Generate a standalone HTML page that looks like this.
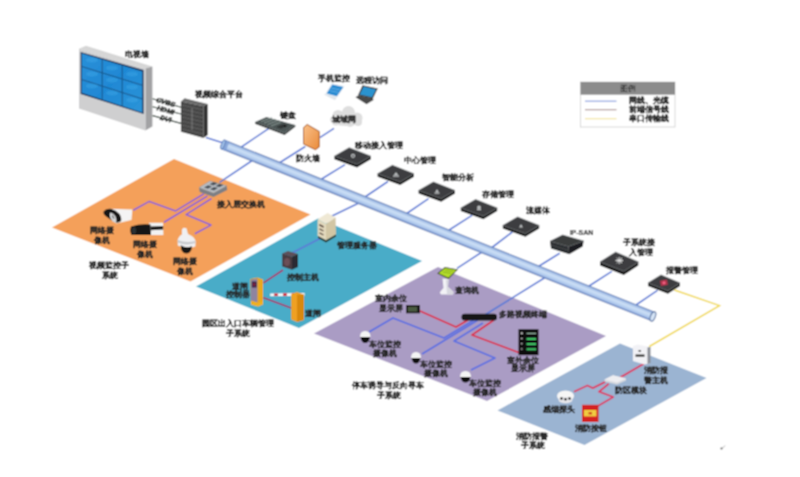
<!DOCTYPE html>
<html><head><meta charset="utf-8">
<style>
html,body{margin:0;padding:0;background:#fff;}
body{width:800px;height:477px;overflow:hidden;}
svg{display:block;}
text{font-family:"Liberation Sans",sans-serif;fill:#262626;stroke:#262626;stroke-width:0.12px;font-size:8px;font-weight:bold;text-anchor:middle;dominant-baseline:central;}
</style></head><body>
<svg width="800" height="477" viewBox="0 0 800 477">
<defs>
<linearGradient id="pipeG" x1="0" y1="0" x2="0" y2="1">
<stop offset="0" stop-color="#5670aa"/><stop offset="0.13" stop-color="#9ab6e2"/><stop offset="0.4" stop-color="#cde0f6"/><stop offset="0.72" stop-color="#b2cbee"/><stop offset="0.88" stop-color="#86a2d6"/><stop offset="1" stop-color="#5670aa"/>
</linearGradient>
<linearGradient id="fwG" x1="0" y1="0" x2="1" y2="1">
<stop offset="0" stop-color="#f9c08a"/><stop offset="1" stop-color="#ea8b3a"/>
</linearGradient>
<g id="dev">
<polygon points="-18.2,-0.5 -18.2,2.5 4.4,10.8 18.2,2.5 18.2,-0.5 4.4,7.6" fill="#1c1d1e"/>
<polygon points="-18.2,-0.5 -3.4,-9 18.2,-0.5 4.4,7.6" fill="#3c3e40" stroke="#5c5f62" stroke-width="0.7"/>
</g>
<filter id="soft" x="-50%" y="-50%" width="200%" height="200%"><feGaussianBlur stdDeviation="0.45"/></filter>
</defs>
<filter id="blurAll" x="0" y="0" width="800" height="477" filterUnits="userSpaceOnUse"><feConvolveMatrix order="3" kernelMatrix="1 2 1 2 4 2 1 2 1" divisor="16" edgeMode="duplicate"/></filter>
<g filter="url(#blurAll)">
<rect width="800" height="477" fill="#fff"/>
<!-- regions -->
<polygon points="52,227.5 174,159 310.5,214.5 190.5,281.5" fill="#F4A05A"/>
<polygon points="196,286.5 318,218.5 422,261 299,328" fill="#4AACC8"/>
<polygon points="314,333.5 438,267 606,336 487,401" fill="#AA9CC4"/>
<polygon points="497.5,410.5 620,343.5 706.5,378 584.5,445" fill="#9BB4D2"/>

<!-- cables (blue) -->
<g stroke="#5c7bd6" stroke-width="1.6" fill="none">
<line x1="206" y1="137.5" x2="225" y2="143.5"/>
<line x1="268.9" y1="128.3" x2="237" y2="150"/>
<line x1="305.3" y1="146.5" x2="276" y2="165"/>
<line x1="319.8" y1="137.7" x2="334" y2="128.4"/>
<line x1="345" y1="164.6" x2="320" y2="180"/>
<line x1="387.9" y1="181.5" x2="362" y2="199"/>
<line x1="428.5" y1="198.6" x2="406" y2="214"/>
<line x1="472" y1="215.3" x2="446" y2="232"/>
<line x1="512.3" y1="232" x2="490" y2="249"/>
<line x1="559.7" y1="253.2" x2="536" y2="268"/>
<line x1="611.8" y1="271.3" x2="586" y2="288"/>
<line x1="657.5" y1="290.4" x2="633" y2="307"/>
<line x1="219.6" y1="182.3" x2="256" y2="158"/>
<line x1="330" y1="217" x2="365" y2="200"/>
<line x1="485.5" y1="314.5" x2="550" y2="274.5"/>
<line x1="457" y1="268.4" x2="482" y2="252"/>
<line x1="290" y1="254" x2="321" y2="238"/>
</g>

<!-- pipe -->
<g transform="translate(223,144.5) rotate(21.8)">
<rect x="0" y="-5" width="463" height="10" fill="url(#pipeG)"/>
<rect x="0" y="-5" width="5" height="10" fill="#7d9ed4" opacity="0.8"/>
<ellipse cx="0" cy="0" rx="1.8" ry="5" fill="#9dbde6" stroke="#5a76b4" stroke-width="0.8"/>
<ellipse cx="463" cy="0" rx="2.4" ry="5" fill="#d5e4f5" stroke="#56709f" stroke-width="1"/>
</g>

<!-- video wall -->
<defs><linearGradient id="scrG" x1="0" y1="0" x2="1" y2="1"><stop offset="0" stop-color="#2a8fd8"/><stop offset="0.5" stop-color="#1f88d4"/><stop offset="1" stop-color="#2b94d8"/></linearGradient></defs>
<polygon points="79,48.8 86,45.8 152.4,66.5 145.4,68.5" fill="#d6d6d6"/>
<polygon points="145.4,68.5 152.4,66.5 152.4,126.5 145.4,130.5" fill="#a2a2a4"/>
<polygon points="79,48.8 145.4,68.5 145.4,130.5 79,108.6" fill="#cfcfd0"/>
<polygon points="80.6,52 143.6,70 143.6,114 80.6,94" fill="#1d3a5e"/>
<polygon points="81.8,53.4 142.2,71.5 142.2,112.6 81.8,92.7" fill="url(#scrG)"/>
<g stroke="#1a4f80" stroke-width="0.9">
<line x1="102.2" y1="59.5" x2="102.2" y2="99.3"/>
<line x1="122.2" y1="65.5" x2="122.2" y2="105.9"/>
<line x1="81.8" y1="66.5" x2="142.2" y2="85.2"/>
<line x1="81.8" y1="79.6" x2="142.2" y2="98.9"/>
</g>
<g fill="#45b0ee" opacity="0.35">
<ellipse cx="92" cy="60" rx="6" ry="2.5"/><ellipse cx="112" cy="68" rx="6" ry="2.5"/><ellipse cx="132" cy="74" rx="6" ry="2.5"/>
<ellipse cx="92" cy="74" rx="6" ry="2.5"/><ellipse cx="112" cy="80" rx="6" ry="2.5"/><ellipse cx="132" cy="87" rx="6" ry="2.5"/>
<ellipse cx="92" cy="86" rx="6" ry="2.5"/><ellipse cx="112" cy="93" rx="6" ry="2.5"/><ellipse cx="132" cy="100" rx="6" ry="2.5"/>
</g>
<!-- CVBS lines -->
<g stroke="#2a3a30" stroke-width="1.1">
<line x1="152.6" y1="98.8" x2="181" y2="107.2"/>
<line x1="152.6" y1="106.7" x2="181" y2="114"/>
<line x1="152.6" y1="115.6" x2="181" y2="123.4"/>
</g>
<g style="font-style:italic">
<text x="165.8" y="102.2" style="font-size:7px;fill:#1a1a1a;stroke:#1a1a1a;stroke-width:0.35px" transform="rotate(16 165.8 102.2)">CVBS</text>
<text x="165.8" y="110" style="font-size:7px;fill:#1a1a1a;stroke:#1a1a1a;stroke-width:0.35px" transform="rotate(16 165.8 110)">HDMI</text>
<text x="165.8" y="118.6" style="font-size:7px;fill:#1a1a1a;stroke:#1a1a1a;stroke-width:0.35px" transform="rotate(16 165.8 118.6)">DVI</text>
</g>
<!-- video platform -->
<polygon points="180.9,101.4 184.6,98.3 207.7,104 203.5,106.2" fill="#6a6a6a"/>
<polygon points="203.5,106.2 207.7,104 207.7,135 203.5,138.1" fill="#303030"/>
<polygon points="180.9,101.4 203.5,106.2 203.5,138.1 180.9,131.8" fill="#474747"/>
<g stroke="#6e6e6e" stroke-width="0.6">
<line x1="181.5" y1="105" x2="203" y2="109.8"/><line x1="181.5" y1="109" x2="203" y2="113.8"/><line x1="181.5" y1="113" x2="203" y2="117.8"/><line x1="181.5" y1="117" x2="203" y2="121.8"/><line x1="181.5" y1="121" x2="203" y2="125.8"/><line x1="181.5" y1="125" x2="203" y2="129.8"/><line x1="181.5" y1="129" x2="203" y2="133.8"/>
</g>
<line x1="192" y1="108" x2="192" y2="130" stroke="#8a8a8a" stroke-width="0.8"/>

<!-- keyboard -->
<polygon points="255,122 255,123.8 284.6,135 295.3,126.8 295.3,125.1 284.6,133.3" fill="#262a2a"/>
<polygon points="255,122 266.4,117 295.3,125.1 284.6,133.3" fill="#4e5656"/>
<g stroke="#9aaaa6" stroke-width="0.9" opacity="0.8">
<line x1="261" y1="121.5" x2="272" y2="117.6"/><line x1="264" y1="123" x2="275" y2="119"/>
<line x1="267.5" y1="124.5" x2="278" y2="120.5"/><line x1="271" y1="126" x2="281" y2="122"/>
</g>
<polygon points="276,127 283,124 288,125.5 281,128.8" fill="#303636"/>
<circle cx="285" cy="126" r="1.3" fill="#1a1a1a"/>
<!-- firewall -->
<polygon points="307.2,124.5 319.2,131.4 319.2,147.1 315.4,149.7 303.5,144 303.5,127.6" fill="url(#fwG)" stroke="#a65418" stroke-width="1"/>
<!-- cloud -->
<g fill="#dedede">
<ellipse cx="346" cy="119.5" rx="16" ry="6.5"/>
<circle cx="338" cy="115.5" r="5.5"/><circle cx="348.5" cy="112.5" r="6.5"/><circle cx="357" cy="118" r="5.5"/><circle cx="336" cy="121" r="4.5"/><circle cx="350" cy="122" r="5"/><circle cx="358" cy="122" r="4"/>
</g>
<!-- laptops -->
<polygon points="323.8,94.5 325.7,93.9 337,97 335,100.3" fill="#dfe4ea"/>
<polygon points="331.5,83.2 344.8,86 337.4,97.4 325,94" fill="#e8eef4"/>
<polygon points="332.3,84.6 343.3,86.9 336.8,96.3 326.6,93.6" fill="#2a8cd2"/>
<g stroke="#7cc0f0" stroke-width="0.6"><line x1="331" y1="88" x2="340" y2="90"/><line x1="329.5" y1="90.5" x2="338.5" y2="92.5"/></g>
<polygon points="355.5,97.2 366.5,104.3 373.5,100 373,98.3 358.4,95.2" fill="#4a4a4a"/>
<polygon points="362.5,85.2 377.8,88.6 372.9,98.5 358,95.2" fill="#3a3a3a"/>
<polygon points="363.6,86.6 376.2,89.5 372.1,97.2 359.6,94.4" fill="#2b93cf"/>
<!-- devices along the pipe -->
<use href="#dev" x="352.6" y="156.7"/>
<use href="#dev" x="395.8" y="174.3"/>
<use href="#dev" x="436.8" y="191"/>
<use href="#dev" x="479" y="208.5"/>
<use href="#dev" x="521" y="226"/>
<!-- IP-SAN box -->
<polygon points="550,241.3 568.5,246.5 569.3,254.3 551,248.5" fill="#2c2e30"/>
<polygon points="568.5,246.5 583.6,241 582.7,246.5 569.3,254.3" fill="#1e1f20"/>
<polygon points="550,241.3 562.6,235 583.6,241 568.5,246.5" fill="#3a3c3e" stroke="#56595c" stroke-width="0.6"/>
<line x1="551" y1="245" x2="568.8" y2="250.3" stroke="#55585a" stroke-width="0.6"/>
<use href="#dev" transform="translate(619.2,262.5) scale(1.05,1.15)"/>
<use href="#dev" transform="translate(664,283.5) scale(0.88,0.95)"/>
<!-- icons -->
<g fill="#d0d2d4" opacity="0.85">
<circle cx="353" cy="155.8" r="2.1"/><circle cx="353" cy="155.8" r="0.9" fill="#444"/>
<path d="M393.5,175.5 L396,172 L398.5,175.5 Z"/><rect x="393" y="175.5" width="6" height="1.2"/>
<path d="M435,192.5 L437,189 L439,192.5 Z"/><rect x="434.5" y="192.5" width="5" height="1.2"/>
<circle cx="479" cy="207.2" r="1.8"/><rect x="477" y="208.8" width="4" height="1.4"/>
<path d="M519,227.5 L521,224 L523,227.5 Z"/>
</g>
<g stroke="#f0f0f0" stroke-width="0.9" filter="url(#soft)">
<line x1="615.5" y1="260.5" x2="623" y2="260.5"/><line x1="619.2" y1="257" x2="619.2" y2="264"/><line x1="616.5" y1="258" x2="622" y2="263"/><line x1="622" y1="258" x2="616.5" y2="263"/>
</g>
<rect x="660.5" y="280" width="7" height="5.5" fill="#b0304a" transform="rotate(-10 664 283)"/>
<circle cx="664" cy="282.8" r="1.6" fill="#f06080"/>
<!-- yellow serial line -->
<polyline points="674.4,290 719.5,305.6 649.3,346.5" fill="none" stroke="#f0d84a" stroke-width="1.5"/>


<!-- orange region cables (purple) -->
<g stroke="#8a62d6" stroke-width="1.6" fill="none" stroke-linejoin="round">
<polyline points="133.2,210.2 149.3,201.4 175.7,210.9 204,193.8"/>
<polyline points="164,222.3 207.5,196"/>
<polyline points="194.8,233.7 211,225.1 186,214.6 211.5,198.5"/>
</g>
<!-- switch -->
<polygon points="199,187.6 199.7,192 213.5,196.9 227.3,190 226.7,185.8 213.5,193.1" fill="#7c7f85"/>
<polygon points="199,187.6 210,181 226.7,185.8 213.5,193.1" fill="#b9bec4" stroke="#8a8e94" stroke-width="0.5"/>
<g fill="#4a5058">
<polygon points="204,187.5 208,185.2 212,186.4 208,188.7"/>
<polygon points="209.5,184.3 213.5,182 217.5,183.2 213.5,185.5"/>
<polygon points="210,189.2 214,186.9 218,188.1 214,190.4"/>
<polygon points="215.5,186 219.5,183.7 223.5,184.9 219.5,187.2"/>
</g>
<!-- camera 1 bullet -->
<polygon points="109.5,208.7 132.4,209.6 131.5,220 116.6,223.6 112,221" fill="#f4f4f4"/>
<path d="M103.5,211.5 Q106,208 111,208.8 Q116,210 119.5,214 Q122,218.5 121,221 Q118.5,223.5 115,222 Q109,219 105.5,216 Q102.8,213.5 103.5,211.5 Z" fill="#161616"/>
<path d="M110.2,212.5 Q113.5,213 115.5,216.5 Q117,220 116,222.5 Q112,221.5 110.5,218.5 Q109,215 110.2,212.5 Z" fill="#d8dadc"/>
<path d="M111.8,214.5 Q113.8,216 114.4,219 Q112.5,218.5 111.8,214.5 Z" fill="#333"/>
<!-- camera 2 box -->
<polygon points="149,222.7 163,222.7 163.4,235 150.7,235" fill="#f2f2f2"/>
<path d="M131,226.5 Q129.4,231 131.5,235 L151,235 L150.5,224.5 Q140,223.5 131,226.5 Z" fill="#161616"/>
<polygon points="150.5,226.5 163.2,226 163.2,229.5 150.8,230.2" fill="#1e1e1e"/>
<ellipse cx="134" cy="230.5" rx="2.2" ry="3.6" fill="#2c3036"/>
<!-- dome camera -->
<path d="M182,229.5 L183.5,227.8 L186.5,228.2 L188,234 Q194.5,236.5 195.6,241 L195.4,246.5 Q186,249.5 177.8,245.5 L177.7,240 Q179,235.5 182,234.5 Z" fill="#f0f0f2"/>
<path d="M177.8,240 Q186,243.5 195.5,241 L195.4,243 Q186,246 177.8,242.5 Z" fill="#c8cace"/>
<path d="M180.8,245.2 Q186,248.5 191.8,246.2 Q192.2,252.8 186.4,253.6 Q180.6,253 180.8,245.2 Z" fill="#161616"/>
<!-- teal: server -->
<polygon points="317.6,219.3 327.6,213 335.6,217.6 326,223.9" fill="#efe8d4"/>
<polygon points="317.6,219.3 326,223.9 326,240.2 317.6,236" fill="#e3d9bd"/>
<polygon points="326,223.9 335.6,217.6 336,234.4 326,240.2" fill="#d2c6a4"/>
<polygon points="318,236 326,240.2 336,234.4 336,236.5 326,242.5 318,238" fill="#2c3a30"/>
<g fill="#6a5548"><rect x="319.5" y="224" width="4" height="1.8" transform="skewY(28) translate(0,-170)"/></g>
<line x1="319.5" y1="224.8" x2="323.5" y2="227" stroke="#5a4a40" stroke-width="1.4"/>
<line x1="319.5" y1="228.8" x2="323.5" y2="231" stroke="#5a4a40" stroke-width="1.4"/>
<line x1="319.5" y1="232.8" x2="323.5" y2="235" stroke="#5a4a40" stroke-width="1.4"/>
<!-- red lines teal -->
<g stroke="#a83468" stroke-width="1.6" fill="none">
<line x1="263.5" y1="282.8" x2="283" y2="270"/>
<line x1="263.5" y1="297.8" x2="291.2" y2="307.9"/>
</g>
<!-- control host -->
<polygon points="282.2,253.5 288,250.9 298,254 292,256.8" fill="#5e5058"/>
<polygon points="282.2,253.5 292,256.8 292,269.8 282.2,266.5" fill="#4a3a40"/>
<ellipse cx="287" cy="262" rx="3" ry="4" fill="#7a5a60" opacity="0.7"/>
<polygon points="292,256.8 298,254 298,267 292,269.8" fill="#2a2a30"/>
<!-- gate controller -->
<polygon points="250.3,279 257.5,277.5 263,279.5 263,304 258,306.5 251,304.5" fill="#eaa81e"/>
<polygon points="250.8,279.5 257.5,278.5 257.5,302.5 250.8,300.5" fill="#8e84a0"/>
<rect x="251.8" y="281.5" width="4.8" height="6" fill="#3a1f45"/>
<rect x="252.8" y="283" width="2.5" height="3" fill="#7a2040"/>
<polygon points="251,301 257.5,303 263,301 263,304.5 258,306.5 251,304.5" fill="#f0b020"/>
<!-- barrier gate -->
<polygon points="270.2,293.5 304.6,293 304.6,295.8 270.2,296.2" fill="#fafafa"/>
<g stroke="#d03040" stroke-width="2.6"><line x1="274" y1="294.8" x2="278" y2="294.7"/><line x1="283" y1="294.6" x2="287" y2="294.5"/><line x1="292" y1="294.4" x2="296" y2="294.3"/></g>
<polygon points="291.2,294 297,292 303.8,294.5 303.8,320 297,322 291.2,319.5" fill="#f0a020"/>
<polygon points="297,294.8 303.8,294.5 303.8,320 297,322" fill="#d88810"/>

<!-- purple: lines -->
<g stroke="#dc2c48" stroke-width="1.8" fill="none" stroke-linejoin="round">
<polyline points="420,311 456,327 468,320"/>
<polyline points="494,320 472,335 520,353"/>
</g>
<g stroke="#5a6ee2" stroke-width="1.7" fill="none" stroke-linejoin="round">
<polyline points="369,332 393,318 444,338 474,320"/>
<polyline points="422,354 478,320"/>
<polyline points="471,370 495,358 454,341 483,323"/>
</g>
<!-- kiosk -->
<path d="M442.5,278.5 L448.5,279 L448,287 Q451,289.5 453.5,292 L453,294.5 L441,294.5 L439.8,292.5 Q441.5,290 443.5,288 Z" fill="#f2f2f6"/>
<path d="M446,280 L448.5,279 L448,287 Q451,289.5 453.5,292 L453,294.5 L447,294.5 Z" fill="#d8d8e0"/>
<polygon points="437.2,273.5 444.8,267 458,269.4 448.6,279" fill="#2e3a10"/>
<polygon points="438.6,273.2 445.2,267.9 456.4,269.9 448.4,277.8" fill="#b2dc2c"/>
<g stroke="#6a8a18" stroke-width="0.5"><line x1="443" y1="272" x2="451" y2="273.2"/><line x1="445" y1="270" x2="453" y2="271.2"/></g>
<!-- indoor display -->
<rect x="406" y="305" width="14" height="8.3" fill="#1e1e1a"/>
<rect x="408" y="307" width="9" height="4.5" fill="#4a5a40"/>
<!-- terminal -->
<rect x="461.5" y="313.8" width="35.5" height="6.8" rx="3" fill="#141414"/>
<!-- outdoor display -->
<rect x="518.5" y="329.2" width="20" height="26" fill="#0c0e0c"/>
<g fill="#3cbc62"><rect x="526.5" y="337.8" width="9.5" height="2.2"/><rect x="526.5" y="343" width="9.5" height="2.2"/><rect x="526.5" y="348.2" width="9.5" height="2.2"/></g>
<rect x="526.5" y="332.8" width="9.5" height="1.2" fill="#8aa898"/>
<g fill="#d8d8d8"><circle cx="521.8" cy="333.2" r="1"/><circle cx="521.8" cy="338.6" r="0.8"/><circle cx="521.8" cy="343.8" r="0.8"/><circle cx="521.8" cy="349" r="0.8"/></g>
<!-- dome cams purple -->
<g>
<path d="M360,337 Q360,331 365.2,331 Q370.5,331 370.5,337 Z" fill="#f4f4f4"/><path d="M360.5,337 L370,337 Q369,343 365.2,343 Q361.5,343 360.5,337 Z" fill="#111"/>
<path d="M411,358 Q411,352 416,352 Q421,352 421,358 Z" fill="#f4f4f4"/><path d="M411.5,358 L420.5,358 Q419.5,363.5 416,363.5 Q412.5,363.5 411.5,358 Z" fill="#111"/>
<path d="M460,377 Q460,371 465.5,371 Q471,371 471,377 Z" fill="#f4f4f4"/><path d="M460.5,377 L470.5,377 Q469.5,382.5 465.5,382.5 Q461.5,382.5 460.5,377 Z" fill="#111"/>
</g>

<!-- fire region -->
<g stroke="#dc3a62" stroke-width="1.8" fill="none" stroke-linejoin="round">
<polyline points="646.3,362.3 620.4,377.4"/>
<polyline points="605.3,381.9 592.8,388.1 587.4,385.5 574,391.7"/>
<polyline points="608.8,383.7 599,391.7 613.3,397 598,406"/>
</g>
<!-- host -->
<polygon points="632.9,346 638,344.5 649.8,347 649.8,363.2 644.5,364.5 632.9,361" fill="#f2f2f6"/>
<polygon points="647.5,347.5 650.5,347 650.5,363 647.5,364" fill="#8a8e96"/>
<rect x="635.5" y="354.5" width="9" height="2.2" fill="#2a2a2a"/><rect x="638.5" y="350" width="2.5" height="1.8" fill="#555"/>
<!-- module -->
<polygon points="604.5,379.5 613,375.2 626,378.4 626,380.4 617,384.5 604.5,381.5" fill="#d8dadf"/>
<polygon points="604.5,379.5 613,375.2 626,378.4 617,382.6" fill="#eeeef2"/>
<!-- smoke detector -->
<ellipse cx="565.5" cy="396" rx="8.5" ry="5.5" fill="#f6f6f6"/>
<ellipse cx="565.5" cy="400" rx="7" ry="3.3" fill="#e8e8ec"/>
<g fill="#111"><circle cx="561.5" cy="398.5" r="1.3"/><circle cx="565.5" cy="399.2" r="1.3"/><circle cx="569.5" cy="398.5" r="1.3"/></g>
<!-- button -->
<rect x="582" y="404.8" width="16.5" height="17.2" fill="#d42020"/>
<rect x="584" y="410" width="12.5" height="6.5" fill="#f0cc40"/>
<rect x="588.5" y="412" width="3.5" height="2.5" fill="#d05020"/>
<!-- small mark -->
<circle cx="721.5" cy="448.5" r="1.1" fill="#555"/><path d="M721.5,448.5 Q724,447.5 725,445.5" stroke="#999" stroke-width="0.7" fill="none"/>
<!-- legend -->
<rect x="580.5" y="82" width="94.5" height="45" fill="#fff" stroke="#cfcfcf" stroke-width="0.8"/>
<rect x="580.5" y="82" width="94.5" height="12.7" fill="#8c8c8c"/>
<text x="628" y="88.7" style="fill:#fff">图例</text>
<line x1="585" y1="101.2" x2="616.5" y2="101.2" stroke="#8fa4e0" stroke-width="1.2"/>
<line x1="585" y1="109.7" x2="616.5" y2="109.7" stroke="#b39a9a" stroke-width="1.2"/>
<line x1="585" y1="118.7" x2="616.5" y2="118.7" stroke="#f4e6a0" stroke-width="1.2"/>
<text x="648.7" y="100.7">网线、光缆</text>
<text x="648.7" y="109.7">前端信号线</text>
<text x="648.7" y="118.7">串口传输线</text>

<!-- labels top -->
<text x="137.4" y="54.1">电视墙</text>
<text x="219.4" y="94.7">视频综合平台</text>
<text x="287.7" y="115.2">键盘</text>
<text x="308.1" y="158">防火墙</text>
<text x="344" y="119.7">城域网</text>
<text x="333.5" y="78.2">手机监控</text>
<text x="372.3" y="80.7">远程访问</text>
<text x="379" y="145">移动接入管理</text>
<text x="419.8" y="160.8">中心管理</text>
<text x="457.8" y="177.6">智能分析</text>
<text x="498" y="194.4">存储管理</text>
<text x="537.8" y="210.3">流媒体</text>
<text x="581.5" y="232.8" style="font-size:7px">IP-SAN</text>
<text x="639.4" y="242.6">子系统接</text>
<text x="640.5" y="252.2">入管理</text>
<text x="682" y="270.7">报警管理</text>
<!-- orange labels -->
<text x="240.9" y="204.9">接入层交换机</text>
<text x="101.8" y="230.2">网络摄</text><text x="102" y="240.2">像机</text>
<text x="145" y="244">网络摄</text><text x="144.5" y="254">像机</text>
<text x="184.5" y="261">网络摄</text><text x="184.5" y="271">像机</text>
<text x="109" y="265">视频监控子</text><text x="110" y="275">系统</text>
<!-- teal labels -->
<text x="357" y="245.9">管理服务器</text>
<text x="303" y="277.7">控制主机</text>
<text x="239.8" y="286">道闸</text><text x="237.8" y="294.5">控制器</text>
<text x="313.2" y="313">道闸</text>
<text x="238.1" y="323.3">园区出入口车辆管理</text><text x="237.7" y="333.8">子系统</text>
<!-- purple labels -->
<text x="466.8" y="290.5">查询机</text>
<text x="390.6" y="298.4">室内余位</text><text x="391.1" y="308">显示屏</text>
<text x="522.7" y="314.5">多路视频终端</text>
<text x="523" y="360.6">室外余位</text><text x="523" y="368.8">显示屏</text>
<text x="385.3" y="344">车位监控</text><text x="384.9" y="353.5">摄像机</text>
<text x="436" y="364">车位监控</text><text x="436" y="373">摄像机</text>
<text x="485" y="383">车位监控</text><text x="485" y="392">摄像机</text>
<text x="388" y="385">停车诱导与反向寻车</text><text x="389" y="395">子系统</text>
<!-- blue labels -->
<text x="655.8" y="370">消防报</text><text x="656" y="380.3">警主机</text>
<text x="630.6" y="390">防区模块</text>
<text x="559.3" y="409.5">感烟探头</text>
<text x="590.8" y="428.5">消防按钮</text>
<text x="532.2" y="436.3">消防报警</text><text x="532.7" y="445.7">子系统</text>
</g>
</svg>
</body></html>
